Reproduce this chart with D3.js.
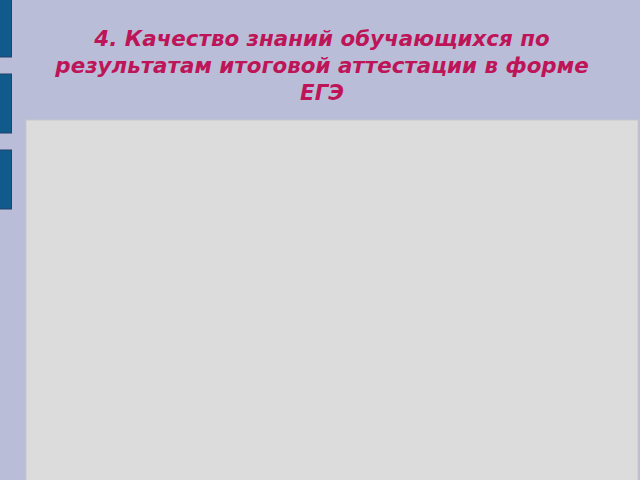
<!DOCTYPE html>
<html>
<head>
<meta charset="utf-8">
<script src="https://cdn.jsdelivr.net/npm/d3@7"></script>
<style>
  body { margin: 0; background: #b9bdd8; }
  svg { display: block; }
</style>
</head>
<body>
<svg width="640" height="480"></svg>
<script>
// title lines of the slide
var titleLines = ["4. Качество знаний обучающихся по",
                  "результатам итоговой аттестации в форме",
                  "ЕГЭ"]
// decorative tabs on the left edge (index only)
var tabs = [0, 1, 2]

var svg = d3.select("svg")

svg.append("rect")
   .attr("width", 640).attr("height", 480)
   .attr("fill", "#b9bdd8")

var tabY = d3.scalePoint().domain(tabs).range([0, 152])

svg.selectAll("rect.tab")
   .data(tabs)
   .enter()
   .append("rect")
   .attr("class", "tab")
   .attr("x", -2)
   .attr("y", function(d){return tabY(d) - 2;})
   .attr("width", 13.5)
   .attr("height", 59)
   .attr("fill", "#115a8c")
   .attr("stroke", "#23416a")
   .attr("stroke-width", 1)

// content area (empty)
svg.append("rect")
   .attr("x", 26).attr("y", 120)
   .attr("width", 612).attr("height", 362)
   .attr("fill", "#dcdcdc")
   .attr("stroke", "#c8c8cc")
   .attr("stroke-width", 1)

var lineY = d3.scaleLinear().domain([0, 2]).range([46, 100])

svg.selectAll("text.title")
   .data(titleLines)
   .enter()
   .append("text")
   .attr("class", "title")
   .attr("x", 322)
   .attr("y", function(d,i){return lineY(i);})
   .attr("text-anchor", "middle")
   .attr("font-family", "DejaVu Sans, sans-serif")
   .attr("font-weight", "bold")
   .attr("font-style", "italic")
   .attr("font-size", 21.4)
   .attr("fill", "#be1458")
   .text(function(d){return d;})
</script>
</body>
</html>
